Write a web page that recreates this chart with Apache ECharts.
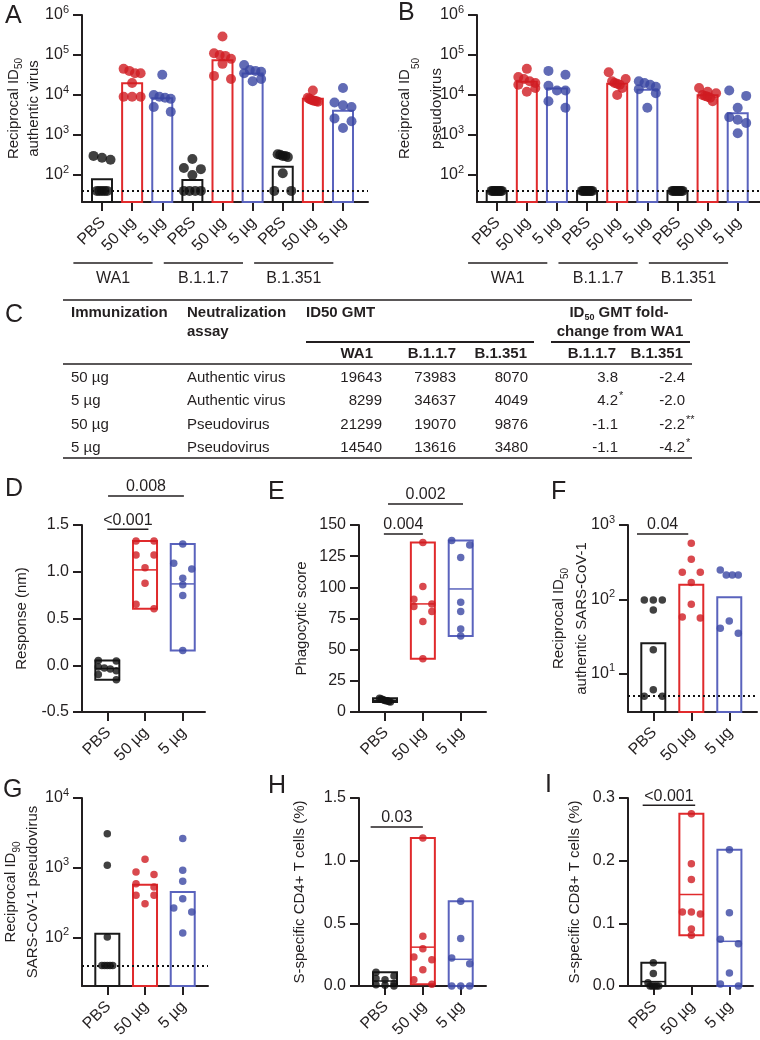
<!DOCTYPE html>
<html>
<head>
<meta charset="utf-8">
<script src="https://cdn.jsdelivr.net/npm/echarts@6/dist/echarts.min.js"></script>
<style>
html,body{margin:0;padding:0;background:#fff}
#c{width:760px;height:1040px}
</style>
</head>
<body>
<div id="c"></div>
<script>
// ---------------- DATA ----------------
const doseCats = ['PBS', '50 µg', '5 µg'];
const variantCats = ['WA1', 'B.1.1.7', 'B.1.351'];
const abCats = [].concat(doseCats, doseCats, doseCats);

// Panel A: reciprocal ID50, authentic virus
const aWA1PBS = [300, 270, 240, 40, 40, 40, 40, 40];
const aWA1_50 = [45000, 40000, 35000, 35000, 20000, 9000, 9000, 9000];
const aWA1_5 = [32000, 10000, 9000, 8500, 8000, 5000, 3800];
const aB117PBS = [250, 150, 140, 100, 40, 40, 40, 40];
const aB117_50 = [290000, 110000, 100000, 95000, 80000, 60000, 30000, 25000];
const aB117_5 = [56000, 42000, 40000, 38000, 35000, 25000, 22000];
const aB1351PBS = [330, 320, 300, 300, 280, 110, 40, 40];
const aB1351_50 = [13000, 8500, 8000, 7600, 7300, 7200, 7000, 6800];
const aB1351_5 = [15000, 6500, 5500, 5000, 2600, 2200, 1500];
const aGMT = [78, 19643, 8299, 75, 73983, 34637, 160, 8070, 4049];

// Panel B: reciprocal ID50, pseudovirus
const bWA1PBS = [40, 40, 40, 40, 40, 40, 40, 40];
const bWA1_50 = [45000, 28000, 25000, 22000, 20000, 18000, 15000, 12000];
const bWA1_5 = [40000, 32000, 17000, 13000, 13000, 7000, 4800];
const bB117PBS = [40, 40, 40, 40, 40, 40, 40, 40];
const bB117_50 = [37000, 25000, 22000, 20000, 19000, 18000, 15000, 10000];
const bB117_5 = [22000, 20000, 18000, 16000, 14000, 11000, 4800];
const bB1351PBS = [40, 40, 40, 40, 40, 40, 40, 40];
const bB1351_50 = [15000, 12000, 11000, 10000, 9500, 9000, 8500, 7000];
const bB1351_5 = [13000, 9500, 4800, 2800, 2400, 2000, 1100];
const bGMT = [40, 21299, 14540, 40, 19070, 13616, 40, 9876, 3480];

// Panel C: table
const tableImmunization = ['50 µg', '5 µg', '50 µg', '5 µg'];
const tableAssay = ['Authentic virus', 'Authentic virus', 'Pseudovirus', 'Pseudovirus'];
const gmtWA1 = [19643, 8299, 21299, 14540];
const gmtB117 = [73983, 34637, 19070, 13616];
const gmtB1351 = [8070, 4049, 9876, 3480];
const foldB117 = ['3.8', '4.2', '-1.1', '-1.1'];
const foldB117Sig = ['', '*', '', ''];
const foldB1351 = ['-2.4', '-2.0', '-2.2', '-4.2'];
const foldB1351Sig = ['', '', '**', '*'];

// Panel D: response (nm)
const dPBS = [0.05, 0.045, -0.02, -0.03, -0.04, -0.06, -0.10, -0.155];
const d50 = [1.33, 1.33, 1.18, 1.18, 1.044, 0.877, 0.653, 0.603];
const d5 = [1.297, 1.09, 1.03, 0.93, 0.86, 0.745, 0.158];
const dMean = [-0.035, 1.02, 0.87];

// Panel E: phagocytic score
const ePBS = [11, 10.5, 10, 9.5, 9, 9, 8.5, 8];
const e50 = [136, 100.6, 90.5, 86.7, 84.6, 80.6, 72.6, 42.7];
const e5 = [137.5, 134, 124, 88, 80.6, 66.5, 61];
const eMean = [9.4, 86.7, 98.7];

// Panel F: reciprocal ID50 authentic SARS-CoV-1
const fPBS = [98, 98, 98, 72, 21, 6.1, 5, 5];
const f50 = [568, 346, 232, 232, 168, 86, 58, 56];
const f5 = [249, 213, 213, 213, 51, 41, 35];
const fGMT = [25.7, 157, 107];

// Panel G: reciprocal ID90 SARS-CoV-1 pseudovirus
const gPBS = [3080, 1090, 102, 40, 40, 40, 40, 40];
const g50 = [1325, 870, 800, 593, 532, 404, 404, 307];
const g5 = [2620, 920, 641, 362, 266, 233, 117];
const gGMT = [114, 574, 451];

// Panel H: S-specific CD4+ T cells (%)
const hPBS = [0.11, 0.08, 0.06, 0.05, 0.02, 0.01, 0.005, 0];
const h50 = [1.18, 0.396, 0.298, 0.231, 0.21, 0.13, 0.05, 0.013];
const h5 = [0.676, 0.378, 0.223, 0.178, 0, 0, 0];
const hMean = [0.04, 0.31, 0.213];

// Panel I: S-specific CD8+ T cells (%)
const iPBS = [0.037, 0.02, 0.005, 0, 0, 0, 0, 0];
const i50 = [0.275, 0.195, 0.17, 0.118, 0.118, 0.115, 0.091, 0.081];
const i5 = [0.2176, 0.117, 0.0745, 0.0676, 0.0207, 0.003, 0];
const iMean = [0.007, 0.146, 0.0713];

// P-value labels
const pLabelsD = ['<0.001', '0.008'];
const pLabelsE = ['0.004', '0.002'];
const pLabelsF = ['0.04'];
const pLabelsH = ['0.03'];
const pLabelsI = ['<0.001'];

// ---------------- STYLE ----------------
const FONT = '"Liberation Sans", Arial, Helvetica, sans-serif';
const INK = '#231f20';
const DOT_COLORS = ['#111111', '#d01c22', '#3a46a3'];
const LINE_COLORS = ['#1a1a1a', '#e02a2c', '#5a63bd'];

const logFmt = v => '{b|10}{s|' + Math.round(Math.log10(v)) + '}';
const fix1 = v => v.toFixed(1);

const panels = [
  { id: 'A', grid: [82, 15, 286, 187], xr: [-0.664, 8.83], cats: abCats,
    y: { type: 'log', min: 21.1, max: 1e6, ticks: [1e2, 1e3, 1e4, 1e5, 1e6], fmt: logFmt },
    name: '{a|Reciprocal ID}{s|50}\n{a|authentic virus}', nameGap: 38, nameLH: 20,
    groups: [aWA1PBS, aWA1_50, aWA1_5, aB117PBS, aB117_50, aB117_5, aB1351PBS, aB1351_50, aB1351_5],
    kind: 'bar', heights: aGMT, lod: 40, dot: 10, barW: 20, spread: 8.5, rowTol: 7,
    brackets: [], variants: true },
  { id: 'B', grid: [477, 15, 283, 187], xr: [-0.654, 8.74], cats: abCats,
    y: { type: 'log', min: 21.1, max: 1e6, ticks: [1e2, 1e3, 1e4, 1e5, 1e6], fmt: logFmt },
    name: '{a|Reciprocal ID}{s|50}\n{a|pseudovirus}', nameGap: 24, nameLH: 32,
    groups: [bWA1PBS, bWA1_50, bWA1_5, bB117PBS, bB117_50, bB117_5, bB1351PBS, bB1351_50, bB1351_5],
    kind: 'bar', heights: bGMT, lod: 40, dot: 10, barW: 20, spread: 8.5, rowTol: 7,
    brackets: [], variants: true },
  { id: 'D', grid: [82, 525, 123, 187], xr: [-0.671, 2.59], cats: doseCats,
    y: { type: 'value', min: -0.5, max: 1.5, ticks: [-0.5, 0, 0.5, 1, 1.5], fmt: fix1 },
    name: '{a|Response (nm)}', nameGap: 50, nameLH: 20,
    groups: [dPBS, d50, d5], kind: 'box', means: dMean, dot: 7.5, barW: 24, spread: 9, rowTol: 6,
    brackets: [{ from: 0, to: 1.09, y: 1.454, label: pLabelsD[0] }, { from: 0.02, to: 2.03, y: 1.81, label: pLabelsD[1] }] },
  { id: 'E', grid: [359, 525, 127, 187], xr: [-0.687, 2.668], cats: doseCats,
    y: { type: 'value', min: 0, max: 150, ticks: [0, 25, 50, 75, 100, 125, 150], fmt: v => String(v) },
    name: '{a|Phagocytic score}', nameGap: 47, nameLH: 20,
    groups: [ePBS, e50, e5], kind: 'box', means: eMean, dot: 7.5, barW: 24, spread: 9, rowTol: 6,
    brackets: [{ from: -0.03, to: 1.0, y: 142.8, label: pLabelsE[0] }, { from: 0.08, to: 2.06, y: 166.8, label: pLabelsE[1] }] },
  { id: 'F', grid: [628, 525, 129, 187], xr: [-0.666, 2.73], cats: doseCats,
    y: { type: 'log', min: 3.06, max: 1000, ticks: [10, 100, 1000], fmt: logFmt },
    name: '{a|Reciprocal ID}{s|50}\n{a|authentic SARS-CoV-1}', nameGap: 35, nameLH: 23,
    groups: [fPBS, f50, f5], kind: 'bar', heights: fGMT, lod: 5, dot: 7.5, barW: 24, spread: 9, rowTol: 6,
    brackets: [{ from: -0.43, to: 0.92, y: 757, label: pLabelsF[0] }] },
  { id: 'G', grid: [82, 798, 126, 188], xr: [-0.671, 2.67], cats: doseCats,
    y: { type: 'log', min: 20.3, max: 1e4, ticks: [100, 1000, 10000], fmt: logFmt },
    name: '{a|Reciprocal ID}{s|90}\n{a|SARS-CoV-1 pseudovirus}', nameGap: 38, nameLH: 22,
    groups: [gPBS, g50, g5], kind: 'bar', heights: gGMT, lod: 40, dot: 7.5, barW: 24, spread: 9, rowTol: 6,
    brackets: [] },
  { id: 'H', grid: [359, 798, 127, 188], xr: [-0.687, 2.668], cats: doseCats,
    y: { type: 'value', min: 0, max: 1.5, ticks: [0, 0.5, 1, 1.5], fmt: fix1 },
    name: '{a|S-specific CD4+ T cells (%)}', nameGap: 49, nameLH: 20,
    groups: [hPBS, h50, h5], kind: 'box', means: hMean, dot: 7.5, barW: 24, spread: 9, rowTol: 6,
    brackets: [{ from: -0.38, to: 1.0, y: 1.269, label: pLabelsH[0] }] },
  { id: 'I', grid: [628, 798, 125, 188], xr: [-0.666, 2.62], cats: doseCats,
    y: { type: 'value', min: 0, max: 0.3, ticks: [0, 0.1, 0.2, 0.3], fmt: fix1 },
    name: '{a|S-specific CD8+ T cells (%)}', nameGap: 43, nameLH: 20,
    groups: [iPBS, i50, i5], kind: 'box', means: iMean, dot: 7.5, barW: 24, spread: 9, rowTol: 6,
    brackets: [{ from: -0.28, to: 1.1, y: 0.2883, label: pLabelsI[0] }] }
];

// pixel y (only used to lay dots out side by side, like a column scatter)
function yPixel(p, v) {
  const t = p.grid[1], h = p.grid[3];
  if (p.y.type === 'log') {
    const a = Math.log10(p.y.min), b = Math.log10(p.y.max);
    return t + h * (b - Math.log10(v)) / (b - a);
  }
  return t + h * (p.y.max - v) / (p.y.max - p.y.min);
}
function swarmOffsets(p, values) {
  const items = values.map((v, i) => ({ i, y: yPixel(p, v) })).sort((a, b) => a.y - b.y);
  const rows = [];
  items.forEach(it => {
    const row = rows[rows.length - 1];
    if (row && it.y - row[0].y < p.rowTol) row.push(it); else rows.push([it]);
  });
  const off = values.map(() => 0);
  const unit = p.grid[2] / (p.xr[1] - p.xr[0]);
  rows.forEach(row => {
    const n = row.length;
    if (n < 2) return;
    const half = (n >= 5 ? 0.6 : 1) * p.spread;
    row.forEach((it, k) => { off[it.i] = (-half + 2 * half * k / (n - 1)) / unit; });
  });
  return off;
}

const grids = [], xAxes = [], yAxes = [], series = [];
panels.forEach((p, k) => {
  grids.push({ left: p.grid[0], top: p.grid[1], width: p.grid[2], height: p.grid[3], containLabel: false, outerBoundsMode: 'none' });
  const idx = p.cats.map((_, i) => i);
  xAxes.push({
    gridIndex: k, type: 'value', min: p.xr[0], max: p.xr[1],
    axisLine: { show: true, onZero: false, lineStyle: { color: INK, width: 2 } },
    axisTick: { show: true, length: 9, lineStyle: { color: INK, width: 2 }, customValues: idx },
    axisLabel: { show: false, customValues: idx },
    splitLine: { show: false }
  });
  yAxes.push({
    gridIndex: k, type: p.y.type, logBase: 10, min: p.y.min, max: p.y.max,
    axisLine: { show: true, onZero: false, lineStyle: { color: INK, width: 2 } },
    axisTick: { show: true, length: 9, lineStyle: { color: INK, width: 2 }, customValues: p.y.ticks },
    axisLabel: { show: true, customValues: p.y.ticks, margin: 13, color: INK, fontFamily: FONT, fontSize: 16,
      formatter: p.y.fmt,
      rich: { b: { fontSize: 16, fontFamily: FONT, color: INK, lineHeight: 22 },
              s: { fontSize: 11, fontFamily: FONT, color: INK, lineHeight: 8, verticalAlign: 'top' } } },
    splitLine: { show: false },
    name: p.name, nameLocation: 'middle', nameGap: p.nameGap, nameMoveOverlap: false,
    nameTextStyle: { color: INK, fontFamily: FONT, fontSize: 15,
      rich: { a: { fontSize: 15, fontFamily: FONT, color: INK, lineHeight: p.nameLH },
              s: { fontSize: 10, fontFamily: FONT, color: INK, lineHeight: 8, verticalAlign: 'bottom' } } }
  });

  // bars (geometric mean) or floating boxes (range with mean line)
  if (p.kind === 'bar') {
    series.push({
      type: 'custom', xAxisIndex: k, yAxisIndex: k, z: 2, silent: true,
      data: p.heights.map((v, i) => [i, v]),
      renderItem: (params, api) => {
        const i = api.value(0), v = api.value(1);
        const top = api.coord([i, v]);
        const bot = api.coord([i, p.y.min]);
        return { type: 'rect', shape: { x: top[0] - p.barW / 2, y: top[1], width: p.barW, height: bot[1] - top[1] },
          style: { fill: 'none', stroke: LINE_COLORS[i % 3], lineWidth: 2 } };
      }
    });
  } else {
    series.push({
      type: 'custom', xAxisIndex: k, yAxisIndex: k, z: 2, silent: true,
      encode: { x: 0, y: [1, 2, 3] },
      data: p.groups.map((arr, i) => [i, Math.min.apply(null, arr), Math.max.apply(null, arr), p.means[i]]),
      renderItem: (params, api) => {
        const i = api.value(0);
        const lo = api.coord([i, api.value(1)]);
        const hi = api.coord([i, api.value(2)]);
        const mid = api.coord([i, api.value(3)]);
        const c = LINE_COLORS[i % 3];
        return { type: 'group', children: [
          { type: 'rect', shape: { x: hi[0] - p.barW / 2, y: hi[1], width: p.barW, height: lo[1] - hi[1] },
            style: { fill: 'none', stroke: c, lineWidth: 2 } },
          { type: 'line', shape: { x1: mid[0] - p.barW / 2, y1: mid[1], x2: mid[0] + p.barW / 2, y2: mid[1] },
            style: { stroke: c, lineWidth: 1.5 } }
        ] };
      }
    });
  }

  // individual animals
  const pts = [];
  p.groups.forEach((arr, g) => {
    const off = swarmOffsets(p, arr);
    arr.forEach((v, j) => pts.push({ value: [g + off[j], v], itemStyle: { color: DOT_COLORS[g % 3] } }));
  });
  const sc = { type: 'scatter', xAxisIndex: k, yAxisIndex: k, z: 3, silent: true, clip: false,
    symbol: 'circle', symbolSize: p.dot, data: pts };
  if (p.lod) {
    sc.markLine = { silent: true, symbol: ['none', 'none'], label: { show: false }, animation: false,
      lineStyle: { color: '#111', width: 2, type: [2, 3] }, emphasis: { disabled: true },
      data: [{ yAxis: p.lod }] };
  }
  series.push(sc);
});

const chart = echarts.init(document.getElementById('c'), null, { renderer: 'canvas', width: 760, height: 1040 });
chart.setOption({
  animation: false,
  backgroundColor: '#ffffff',
  textStyle: { fontFamily: FONT },
  grid: grids, xAxis: xAxes, yAxis: yAxes, series: series
});

// ---------------- annotations ----------------
const gfx = [];
function txt(x, y, text, size, o) {
  o = o || {};
  const a = o.align || 'left', va = o.va || 'middle';
  const st = { text: text, fill: INK, font: (o.bold ? 'bold ' : '') + size + 'px ' + FONT,
    align: a, verticalAlign: va, textAlign: a, textVerticalAlign: va };
  if (o.rich) st.rich = o.rich;
  const el = { type: 'text', x: x, y: y, silent: true, z: 10, style: st };
  if (o.rotation) el.rotation = o.rotation;
  gfx.push(el);
}
function ln(x1, y1, x2, y2, w) {
  gfx.push({ type: 'line', silent: true, z: 10, shape: { x1: x1, y1: y1, x2: x2, y2: y2 }, style: { stroke: INK, lineWidth: w || 1.5 } });
}

// panel letters
[['A', 5, 16], ['B', 398, 13], ['C', 5, 315], ['D', 5, 489], ['E', 268, 492], ['F', 551, 492],
 ['G', 3, 790], ['H', 268, 786], ['I', 545, 785]].forEach(l => txt(l[1], l[2], l[0], 25, { va: 'middle' }));

panels.forEach((p, k) => {
  // rotated category labels at the x ticks
  p.cats.forEach((name, i) => {
    const t = chart.convertToPixel({ gridIndex: k }, [i, p.y.min]);
    txt(t[0] + 1, t[1] + 18, name, 16, { align: 'right', va: 'middle', rotation: Math.PI / 4 });
  });
  // significance brackets
  p.brackets.forEach(b => {
    const a = chart.convertToPixel({ gridIndex: k }, [b.from, b.y]);
    const c = chart.convertToPixel({ gridIndex: k }, [b.to, b.y]);
    ln(a[0], a[1], c[0], c[1], 1.5);
    txt((a[0] + c[0]) / 2, a[1] - 1, b.label, 16, { align: 'center', va: 'bottom' });
  });
  // variant group labels under the dose labels
  if (p.variants) {
    variantCats.forEach((name, g) => {
      const a = chart.convertToPixel({ gridIndex: k }, [3 * g - 0.95, p.y.min]);
      const c = chart.convertToPixel({ gridIndex: k }, [3 * g + 1.68, p.y.min]);
      ln(a[0], a[1] + 61, c[0], a[1] + 61, 1.5);
      txt((a[0] + c[0]) / 2, a[1] + 77, name, 16, { align: 'center' });
    });
  }
});

// table C
const colL = 63, colR = 692;
ln(colL, 300, colR, 300, 1.6);
txt(71, 313, 'Immunization', 15, { bold: true });
txt(187, 313, 'Neutralization', 15, { bold: true });
txt(187, 332, 'assay', 15, { bold: true });
txt(306, 313, 'ID50 GMT', 15, { bold: true });
const hdrRich = {
  b: { fontSize: 15, fontWeight: 'bold', fontFamily: FONT, color: INK, lineHeight: 18 },
  s: { fontSize: 9, fontWeight: 'bold', fontFamily: FONT, color: INK, lineHeight: 6, verticalAlign: 'bottom' }
};
txt(619, 313, '{b|ID}{s|50}{b| GMT fold-}', 15, { align: 'center', bold: true, rich: hdrRich });
txt(620, 332, 'change from WA1', 15, { align: 'center', bold: true });
ln(306, 342, 534, 342, 2);
ln(551, 342, 690, 342, 2);
const subX = [373, 456, 527, 616, 683];
['WA1', 'B.1.1.7', 'B.1.351', 'B.1.1.7', 'B.1.351'].forEach((s, i) => txt(subX[i], 354, s, 15, { bold: true, align: 'right' }));
ln(colL, 364, colR, 364, 1.6);
const rowY = [378, 401, 424.5, 448];
tableImmunization.forEach((s, r) => {
  txt(71, rowY[r], s, 15);
  txt(187, rowY[r], tableAssay[r], 15);
  txt(382, rowY[r], String(gmtWA1[r]), 15, { align: 'right' });
  txt(456, rowY[r], String(gmtB117[r]), 15, { align: 'right' });
  txt(528, rowY[r], String(gmtB1351[r]), 15, { align: 'right' });
  txt(618, rowY[r], foldB117[r], 15, { align: 'right' });
  txt(685, rowY[r], foldB1351[r], 15, { align: 'right' });
  if (foldB117Sig[r]) txt(619, rowY[r] - 5, foldB117Sig[r], 11);
  if (foldB1351Sig[r]) txt(686, rowY[r] - 5, foldB1351Sig[r], 11);
});
ln(colL, 458, colR, 458, 1.6);

chart.setOption({ graphic: { elements: gfx } });
</script>
</body>
</html>
